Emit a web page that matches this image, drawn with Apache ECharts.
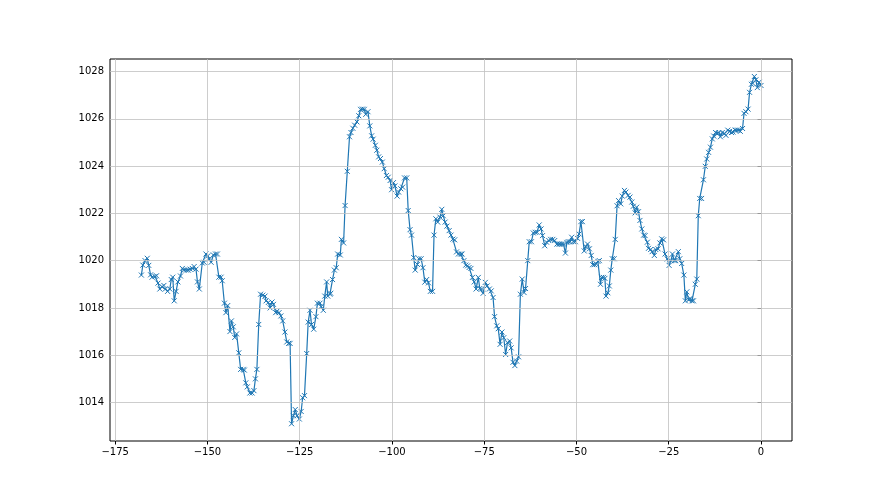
<!DOCTYPE html>
<html>
<head>
<meta charset="utf-8">
<script src="https://cdn.jsdelivr.net/npm/echarts@6/dist/echarts.min.js"></script>
<style>
html,body{margin:0;padding:0;background:#fff;}
#chart{width:880px;height:495px;}
</style>
</head>
<body>
<div id="chart"></div>
<script>
// Segment A
const hoursA = [-167.9,-167.5,-166.9,-166.3,-165.9,-165.4,-165.0,-164.2,-163.8,-163.4,
-162.9,-162.3,-161.8,-161.4,-160.8,-160.2,-159.8,-159.4,-159.0,-158.5,
-158.0,-157.3,-156.8,-156.3,-155.7,-155.2,-154.7,-154.1,-153.6,-153.1,
-152.7,-152.2,-151.4,-150.9,-150.4,-149.9,-149.5,-149.0,-148.4,-147.8,
-147.3,-146.9,-146.3,-146.0,-145.4,-145.0,-144.5,-143.9,-143.5,-143.0,
-142.6,-142.1,-141.5,-141.0,-140.3,-140.0,-139.6,-139.2,-138.5,-137.9,
-137.4,-137.0,-136.6,-136.1,-135.6,-135.0,-134.4,-134.1,-133.5,-133.0,
-132.5,-132.1,-131.5,-131.1,-130.6,-130.1,-129.6,-129.0,-128.5,-128.0,
-127.6,-127.2,-126.7,-126.2,-125.7,-125.1,-124.6,-124.2,-123.7,-123.1,
-122.7,-122.2,-121.8,-121.2,-120.6,-120.2,-119.5,-119.2,-118.6,-118.2,
-117.7,-117.4,-116.8,-116.6,-116.1,-115.6,-115.1,-114.7];
const pressureA = [1019.39,1019.81,1020.0,1020.1,1019.8,1019.4,1019.3,1019.33,1019.36,1019.05,
1018.8,1018.9,1018.95,1018.8,1018.7,1018.8,1019.2,1019.3,1018.3,1018.7,
1019.1,1019.35,1019.67,1019.6,1019.6,1019.6,1019.64,1019.67,1019.75,1019.64,
1019.1,1018.8,1019.9,1019.93,1020.28,1020.2,1020.07,1019.93,1020.24,1020.28,
1020.28,1019.3,1019.3,1019.15,1018.2,1017.8,1018.1,1017.0,1017.45,1017.2,
1016.75,1016.9,1016.1,1015.4,1015.4,1015.37,1014.83,1014.66,1014.4,1014.4,
1014.5,1015.0,1015.4,1017.3,1018.58,1018.54,1018.5,1018.3,1018.23,1018.0,
1018.25,1018.15,1017.8,1017.87,1017.8,1017.66,1017.45,1016.98,1016.56,1016.5,
1016.5,1013.1,1013.44,1013.7,1013.44,1013.3,1013.62,1014.2,1014.29,1016.07,
1017.4,1017.9,1017.3,1017.1,1017.63,1018.2,1018.2,1018.06,1017.9,1018.5,
1019.1,1018.5,1018.58,1018.62,1019.2,1019.6,1019.7,1020.28];

// Segment B
const hoursB = [-114.0,-113.7,-113.1,-112.7,-112.1,-111.5,-111.1,-110.6,-110.1,-109.5,
-109.0,-108.5,-108.0,-107.5,-107.1,-106.5,-106.0,-105.5,-105.1,-104.5,
-104.1,-103.6,-103.1,-102.6,-102.1,-101.5,-101.0,-100.5,-100.1,-99.6,
-99.2,-98.6,-98.2,-97.6,-97.1,-96.6,-96.0,-95.6,-95.1,-94.7,
-94.1,-93.7,-93.1,-92.7,-92.1,-91.6,-91.1,-90.6,-90.1,-89.6,
-89.0,-88.6,-88.1,-87.6,-87.0,-86.5,-86.1,-85.6,-85.1,-84.5,
-84.0,-83.5,-83.0,-82.5,-82.0,-81.4,-81.0,-80.5,-80.0,-79.5,
-79.1,-78.6,-78.2,-77.7,-77.2,-76.6,-76.2,-75.7,-75.3,-74.7,
-74.2,-73.6,-73.1,-72.6,-72.2,-71.6,-71.2,-70.7,-70.2,-69.7,
-69.2,-68.7,-68.1,-67.7,-67.2,-66.7,-66.2,-65.7,-65.2,-64.7,
-64.2,-63.8,-63.2,-62.8,-62.2,-61.7,-61.2,-60.7,-60.1,-59.6,
-59.2,-58.6,-58.1,-57.5,-57.0,-56.4,-55.9,-55.3,-54.8];
const pressureB = [1020.24,1020.9,1020.75,1022.33,1023.78,1025.24,1025.42,1025.6,1025.73,1025.87,
1026.13,1026.4,1026.41,1026.4,1026.19,1026.3,1025.7,1025.28,1025.14,1024.88,
1024.67,1024.39,1024.32,1024.17,1023.89,1023.6,1023.53,1023.39,1023.0,1023.3,
1023.16,1022.73,1022.9,1023.04,1023.11,1023.5,1023.5,1022.12,1021.31,1021.08,
1020.13,1019.6,1019.84,1020.08,1020.08,1019.7,1019.09,1019.2,1019.06,1018.7,
1018.7,1021.08,1021.77,1021.63,1021.84,1022.17,1021.9,1021.63,1021.46,1021.27,
1021.08,1020.91,1020.88,1020.37,1020.28,1020.28,1020.28,1020.0,1019.81,1019.78,
1019.71,1019.67,1019.29,1019.1,1018.8,1019.29,1018.82,1018.8,1018.62,1019.08,
1018.93,1018.8,1018.72,1018.44,1017.63,1017.24,1017.12,1016.46,1016.98,1016.74,
1016.03,1016.53,1016.6,1016.31,1015.7,1015.56,1015.75,1015.93,1018.58,1019.22,
1018.65,1018.82,1020.0,1020.8,1020.8,1021.17,1021.2,1021.2,1021.51,1021.34,
1021.06,1020.63,1020.78,1020.85,1020.9,1020.9,1020.85,1020.7,1020.7];

// Segment C
const hoursC = [-54.4,-54.0,-53.5,-53.0,-52.6,-52.2,-51.7,-51.3,-50.8,-50.3,
-49.7,-49.3,-48.8,-48.4,-47.9,-47.5,-47.0,-46.5,-46.0,-45.6,
-45.1,-44.7,-44.2,-43.8,-43.5,-43.2,-42.7,-42.3,-42.0,-41.5,
-41.1,-40.7,-40.3,-39.8,-39.5,-39.0,-38.6,-38.0,-37.6,-37.0,
-36.6,-36.0,-35.5,-35.0,-34.6,-34.1,-33.7,-33.2,-32.8,-32.3,
-31.8,-31.4,-30.8,-30.5,-29.9,-29.5,-28.9,-28.5,-27.9,-27.4,
-26.9,-26.4,-26.0,-25.4,-24.9,-24.4,-24.0,-23.5,-23.1,-22.4,
-22.0,-21.5,-20.9,-20.5,-20.1,-19.6,-19.2,-18.7,-18.3,-17.8,
-17.4,-17.0,-16.6,-16.1,-15.6,-15.1,-14.7,-14.2,-13.7,-13.2,
-12.8,-12.3,-11.8,-11.4,-11.0,-10.5,-9.9,-9.5,-9.0,-8.5,
-8.0,-7.6,-7.0,-6.6,-6.1,-5.6,-5.0,-4.6,-4.1,-3.5,
-3.1,-2.6,-2.2,-1.8,-1.4,-1.0,-0.5,0.0];
const pressureC = [1020.7,1020.7,1020.7,1020.32,1020.77,1020.8,1020.8,1020.99,1020.8,1020.8,
1020.94,1021.13,1021.65,1021.65,1020.41,1020.6,1020.7,1020.5,1020.22,1019.83,
1019.83,1019.87,1019.97,1020.0,1019.0,1019.29,1019.29,1019.25,1018.5,1018.64,
1018.93,1019.6,1020.08,1020.08,1020.9,1022.32,1022.54,1022.4,1022.73,1022.97,
1022.9,1022.76,1022.69,1022.48,1022.3,1022.02,1022.26,1022.07,1021.7,1021.34,
1021.08,1021.06,1020.78,1020.52,1020.47,1020.38,1020.22,1020.47,1020.5,1020.75,
1020.92,1020.88,1020.28,1020.07,1019.8,1020.0,1020.28,1020.0,1020.0,1020.38,
1020.08,1019.88,1019.39,1018.3,1018.68,1018.34,1018.4,1018.3,1018.3,1019.0,
1019.22,1021.9,1022.63,1022.63,1023.42,1023.99,1024.3,1024.58,1024.8,1025.15,
1025.27,1025.42,1025.37,1025.42,1025.24,1025.42,1025.37,1025.3,1025.52,1025.47,
1025.42,1025.44,1025.52,1025.52,1025.52,1025.47,1025.59,1026.23,1026.3,1026.41,
1027.12,1027.46,1027.5,1027.79,1027.65,1027.32,1027.55,1027.41];

const xTicks = [-175, -150, -125, -100, -75, -50, -25, 0];
const yTicks = [1014, 1016, 1018, 1020, 1022, 1024, 1026, 1028];

const hours = hoursA.concat(hoursB, hoursC);
const pressure = pressureA.concat(pressureB, pressureC);
const points = hours.map((h, i) => [h, pressure[i]]);

const FONT = 'DejaVu Sans';
const chart = echarts.init(document.getElementById('chart'), null, {renderer: 'canvas'});

const gridLines = xTicks.map(v => ({xAxis: v})).concat(yTicks.map(v => ({yAxis: v})));

chart.setOption({
  animation: false,
  backgroundColor: '#fff',
  grid: {left: 110, right: 88, top: 59, bottom: 54, show: true,
         borderColor: '#000', borderWidth: 1, backgroundColor: '#fff', containLabel: false},
  xAxis: {
    type: 'value', min: -176.4, max: 8.4,
    axisLine: {show: false},
    splitLine: {show: false},
    axisTick: {show: true, customValues: xTicks, length: 3.5, inside: false,
               lineStyle: {color: '#000', width: 1}},
    axisLabel: {customValues: xTicks, color: '#000', fontFamily: FONT, fontSize: 10, margin: 6,
                formatter: v => String(v).replace('-', '\u2212')}
  },
  yAxis: {
    type: 'value', min: 1012.37, max: 1028.53,
    axisLine: {show: false},
    splitLine: {show: false},
    axisTick: {show: true, customValues: yTicks, length: 3.5, inside: false,
               lineStyle: {color: '#000', width: 1}},
    axisLabel: {customValues: yTicks, color: '#000', fontFamily: FONT, fontSize: 10, margin: 6,
                formatter: v => String(v)}
  },
  series: [
    {
      type: 'line', data: [], z: 1, silent: true, symbol: 'none',
      markLine: {silent: true, symbol: ['none', 'none'], label: {show: false},
                 lineStyle: {color: '#c0c0c0', width: 0.8, type: 'solid'},
                 emphasis: {disabled: true}, animation: false, data: gridLines}
    },
    {
      type: 'line', data: points, z: 3,
      showSymbol: true, showAllSymbol: true,
      symbol: 'path://M0,0L10,10M10,0L0,10', symbolSize: 5,
      lineStyle: {color: '#1f77b4', width: 1.2},
      itemStyle: {color: 'rgba(0,0,0,0)', borderColor: '#1f77b4', borderWidth: 1},
      emphasis: {disabled: true}
    }
  ]
});
</script>
</body>
</html>
